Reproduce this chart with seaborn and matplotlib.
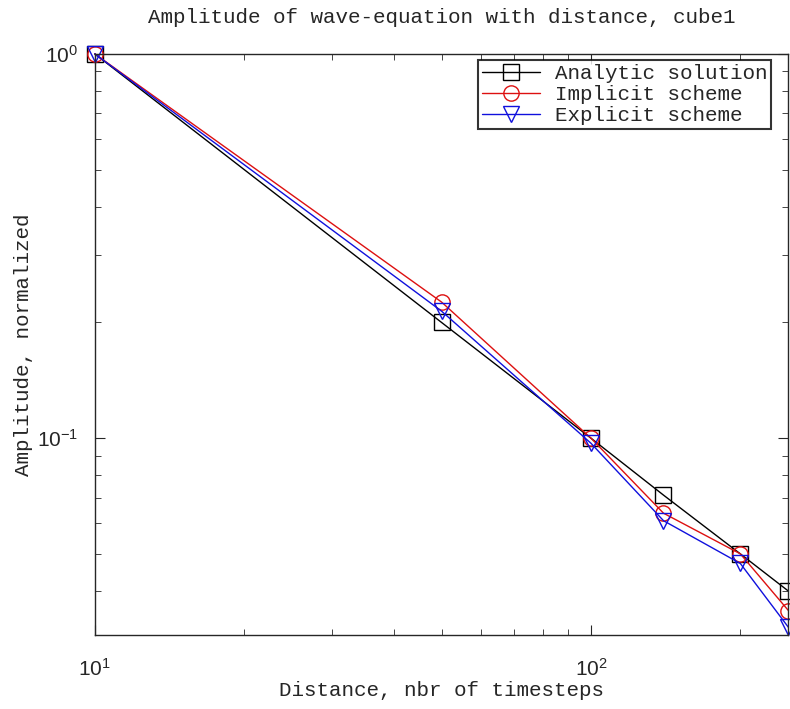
import numpy as np
import pandas as pd
import matplotlib
matplotlib.use('Agg')
import matplotlib.pyplot as plt
import seaborn as sns

distance = [10, 50, 100, 140, 200, 250]
analytic = [1.0, 0.200, 0.100, 0.0711, 0.0500, 0.0400]
implicit = [1.0, 0.226, 0.100, 0.0638, 0.0500, 0.0356]
explicit = [1.0, 0.214, 0.097, 0.0610, 0.0472, 0.0322]
labels = ['Analytic solution', 'Implicit scheme', 'Explicit scheme']

sns.set_style('ticks')
plt.rcParams['font.family'] = ['Liberation Mono', 'DejaVu Sans Mono']
plt.rcParams['mathtext.fontset'] = 'custom'
plt.rcParams['mathtext.rm'] = 'Liberation Sans'
plt.rcParams['mathtext.it'] = 'Liberation Sans:italic'
plt.rcParams['mathtext.bf'] = 'Liberation Sans:bold'

fig = plt.figure(figsize=(7.9, 7.09), dpi=100)
ax = fig.add_axes([0.120, 0.104, 0.878, 0.820])

styles = [('black', 's'), ('#dd1010', 'o'), ('#1010dd', 'v')]
for vals, lab, (c, m) in zip([analytic, implicit, explicit], labels, styles):
    sns.lineplot(x=distance, y=vals, ax=ax, color=c, marker=m, markersize=11,
                 markerfacecolor='none', markeredgecolor=c, markeredgewidth=1.0,
                 linewidth=1.0, label=lab, clip_on=False)

ax.set_xscale('log')
ax.set_yscale('log')
ax.set_xlim(10, 250)
ax.set_ylim(0.0307, 1.0)

ax.tick_params(which='both', top=True, right=True, direction='in')
ax.tick_params(which='major', length=7, labelsize=15)
ax.tick_params(which='minor', length=4)
ax.tick_params(axis='x', which='major', pad=16)
ax.tick_params(axis='y', which='major', pad=12)
for t in ax.get_xticklabels() + ax.get_yticklabels():
    t.set_family('Liberation Sans')

ax.set_title('Amplitude of wave-equation with distance, cube1', fontsize=15, pad=22)
ax.set_xlabel('Distance, nbr of timesteps', fontsize=15, labelpad=1)
ax.set_ylabel('Amplitude, normalized', fontsize=15, labelpad=3)

leg = ax.legend(loc='upper right', bbox_to_anchor=(0.9755, 0.9897),
                borderaxespad=0, fontsize=15, frameon=True, fancybox=False,
                edgecolor='black', handlelength=2.8, borderpad=0.2,
                labelspacing=0.1, handletextpad=0.7)
leg.get_frame().set_linewidth(1.5)
for s in ax.spines.values():
    s.set_linewidth(1.0)

fig.savefig('out.png', dpi=100)
